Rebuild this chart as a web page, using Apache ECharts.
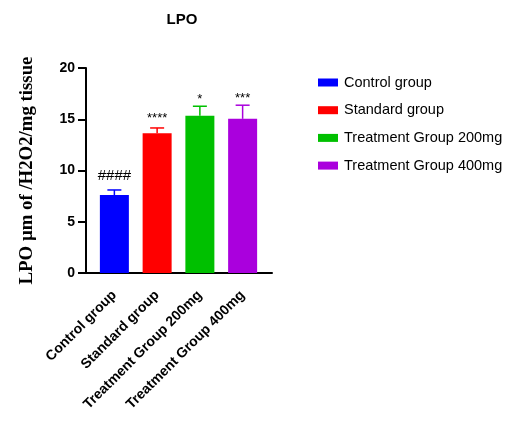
<!DOCTYPE html>
<html><head><meta charset="utf-8">
<script src="https://cdn.jsdelivr.net/npm/echarts@6/dist/echarts.min.js"></script>
<style>html,body{margin:0;padding:0;background:#fff}#c{width:511px;height:423px}</style>
</head><body><div id="c"></div>
<script>
const categories = ['Control group', 'Standard group', 'Treatment Group 200mg', 'Treatment Group 400mg'];
const means = [7.6, 13.63, 15.33, 15.04];
const upper = [8.1, 14.15, 16.27, 16.37];
const marks = ['####', '****', '*', '***'];
const colors = ['#0000ff', '#ff0000', '#00c000', '#aa00dd'];
const yTicks = [0, 5, 10, 15, 20];

const chart = echarts.init(document.getElementById('c'));
const barSeries = categories.map((name, i) => ({
  name: name,
  type: 'bar',
  stack: 'all',
  barWidth: 29,
  itemStyle: { color: colors[i] },
  data: categories.map((c, j) => j === i ? means[i] : '-'),
  xAxisIndex: 0, yAxisIndex: 0
}));
const errData = categories.map((c, i) => [i, means[i], upper[i], marks[i]]);
chart.setOption({
  animation: false,
  title: { text: 'LPO', left: 177, top: 7, textAlign: 'center',
    textStyle: { fontFamily: 'Liberation Sans', fontWeight: 'bold', fontSize: 15, color: '#000' } },
  legend: {
    orient: 'vertical', left: 313, top: 70, itemWidth: 20, itemHeight: 8, itemGap: 12.7,
    icon: 'rect',
    textStyle: { fontFamily: 'Liberation Sans', fontSize: 14.5, color: '#000', padding: [0,0,0,1] },
    data: categories
  },
  grid: [
    { left: 93, right: 247, top: 68, bottom: 150 },
    { left: 86, right: 239, top: 68, bottom: 150 }
  ],
  xAxis: [
    { type: 'category', data: categories, gridIndex: 0,
      axisLine: { lineStyle: { color: '#000', width: 2 } },
      axisTick: { alignWithLabel: true, length: 9, inside: false, lineStyle: { color: '#000', width: 2 } },
      axisLabel: { rotate: 45, interval: 0, margin: 20, color: '#000', fontFamily: 'Liberation Sans', fontWeight: 'bold', fontSize: 14 } },
    { type: 'value', gridIndex: 1, min: 0, max: 1,
      axisLine: { show: true, lineStyle: { color: '#000', width: 2 } },
      axisTick: { show: false }, axisLabel: { show: false }, splitLine: { show: false } }
  ],
  yAxis: [
    { type: 'value', gridIndex: 0, min: 0, max: 20, interval: 5, offset: 7,
      name: 'LPO µm of /H2O2/mg tissue', nameLocation: 'middle', nameGap: 49, nameRotate: 90,
      nameTextStyle: { fontFamily: 'Liberation Serif', fontWeight: 'bold', fontSize: 18.8, color: '#000' },
      axisLine: { show: true, lineStyle: { color: '#000', width: 2 } },
      axisTick: { show: true, length: 8, lineStyle: { color: '#000', width: 2 } },
      axisLabel: { color: '#000', fontFamily: 'Liberation Sans', fontWeight: 'bold', fontSize: 14, margin: 11,
        formatter: v => yTicks.includes(v) ? String(v) : '' },
      splitLine: { show: false } },
    { type: 'value', gridIndex: 1, min: 0, max: 20, show: false }
  ],
  series: barSeries.concat([{
    type: 'custom',
    xAxisIndex: 0, yAxisIndex: 0,
    data: errData,
    encode: { x: 0, y: 2 },
    renderItem: function (params, api) {
      const i = api.value(0);
      const base = api.coord([i, api.value(1)]);
      const top = api.coord([i, api.value(2)]);
      const half = 7;
      const col = colors[i];
      const single = marks[i].indexOf('*') === 0 && marks[i].length < 4;
      return {
        type: 'group',
        children: [
          { type: 'line', shape: { x1: base[0], y1: base[1], x2: top[0], y2: top[1] }, style: { stroke: col, lineWidth: 1.5 } },
          { type: 'line', shape: { x1: top[0] - half, y1: top[1], x2: top[0] + half, y2: top[1] }, style: { stroke: col, lineWidth: 1.5 } },
          { type: 'text', x: top[0], y: top[1] - (i === 0 ? 7 : (single ? 0 : 3)), style: { text: marks[i], textAlign: 'center', textVerticalAlign: 'bottom',
              fontFamily: 'Liberation Sans', fontSize: i === 0 ? 15 : 13, fill: '#000' } }
        ]
      };
    },
    z: 5
  }])
});
</script></body></html>
